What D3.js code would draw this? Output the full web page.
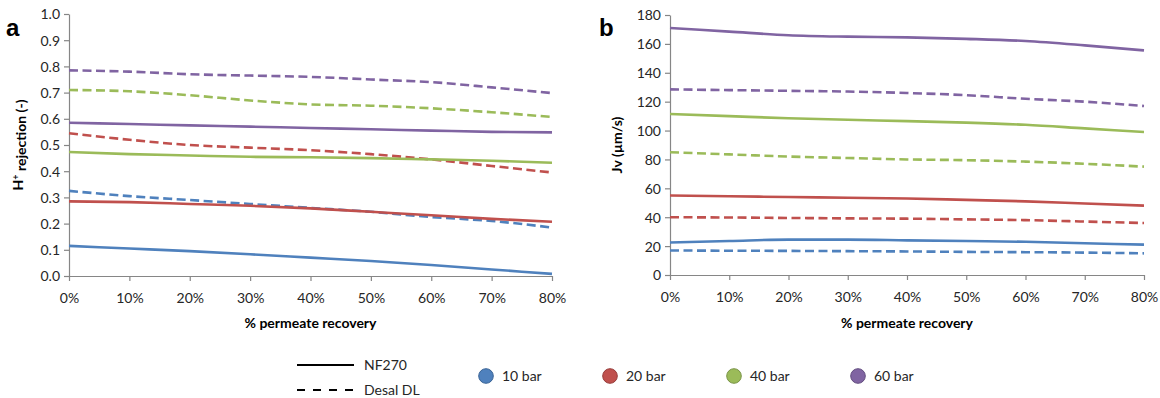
<!DOCTYPE html>
<html>
<head>
<meta charset="utf-8">
<script src="https://cdn.jsdelivr.net/npm/d3@7"></script>
<style>
  html, body { margin: 0; padding: 0; background: #fff; }
  svg { display: block; font-family: Lato, "Open Sans", sans-serif; }
</style>
</head>
<body>
<svg id="chart" width="1160" height="398"></svg>
<script>
// Permeate recovery (%) at which each series was sampled
const recovery = [0, 10, 20, 30, 40, 50, 60, 70, 80];

// Pressures and their colours
const pressures = ["10 bar", "20 bar", "40 bar", "60 bar"];
const colors = ["#4F81BD", "#C0504D", "#9BBB59", "#8064A2"];
const strokeColors = ["#3A6496", "#973C3A", "#7A9447", "#634D80"];

// Membranes: solid = NF270, dashed = Desal DL
const membranes = ["NF270", "Desal DL"];

// Panel a: H+ rejection (-)
const rejNF270_10 = [0.115, 0.105, 0.095, 0.083, 0.070, 0.057, 0.042, 0.025, 0.008];
const rejNF270_20 = [0.285, 0.282, 0.275, 0.268, 0.258, 0.245, 0.232, 0.218, 0.207];
const rejNF270_40 = [0.473, 0.465, 0.460, 0.455, 0.453, 0.450, 0.445, 0.440, 0.432];
const rejNF270_60 = [0.585, 0.580, 0.575, 0.570, 0.565, 0.560, 0.555, 0.550, 0.548];
const rejDesal_10 = [0.325, 0.305, 0.290, 0.275, 0.260, 0.245, 0.225, 0.210, 0.185];
const rejDesal_20 = [0.545, 0.520, 0.500, 0.490, 0.480, 0.465, 0.445, 0.420, 0.395];
const rejDesal_40 = [0.710, 0.705, 0.690, 0.670, 0.655, 0.650, 0.640, 0.625, 0.607];
const rejDesal_60 = [0.785, 0.780, 0.770, 0.765, 0.760, 0.750, 0.740, 0.720, 0.698];

// Panel b: permeate flux Jv (µm/s)
const jvNF270_10 = [22.5, 23.5, 24.5, 24.5, 24.0, 23.5, 23.0, 22.0, 21.0];
const jvNF270_20 = [55.0, 54.5, 54.0, 53.5, 53.0, 52.0, 51.0, 49.5, 48.0];
const jvNF270_40 = [111.5, 110.0, 108.5, 107.5, 106.5, 105.5, 104.0, 101.5, 99.0];
const jvNF270_60 = [171.0, 168.5, 166.0, 165.0, 164.5, 163.5, 162.0, 159.0, 155.5];
const jvDesal_10 = [17.0, 16.8, 16.7, 16.5, 16.3, 16.0, 15.8, 15.5, 15.0];
const jvDesal_20 = [40.0, 39.8, 39.5, 39.2, 39.0, 38.5, 38.0, 37.0, 36.0];
const jvDesal_40 = [85.0, 83.5, 82.0, 81.0, 80.0, 79.5, 78.5, 77.0, 75.0];
const jvDesal_60 = [128.5, 128.0, 127.5, 127.0, 126.0, 124.5, 122.0, 120.0, 117.0];

// Axis ticks
const xTicks = [0, 10, 20, 30, 40, 50, 60, 70, 80];
const rejTicks = [0, 0.1, 0.2, 0.3, 0.4, 0.5, 0.6, 0.7, 0.8, 0.9, 1.0];
const jvTicks = [0, 20, 40, 60, 80, 100, 120, 140, 160, 180];

const svg = d3.select("#chart");
const axisColor = "#868686";
const labelColor = "#262626";

function buildSeries(nf, desal) {
  const out = [];
  // dashed lines first, then solid, drawn in pressure order
  desal.forEach((vals, i) => out.push({ membrane: 1, color: colors[i], values: vals }));
  nf.forEach((vals, i) => out.push({ membrane: 0, color: colors[i], values: vals }));
  return out;
}

function drawPanel(opts) {
  const g = svg.append("g");
  const x = d3.scaleLinear().domain([0, 80]).range([opts.left, opts.right]);
  const y = d3.scaleLinear().domain(opts.yDomain).range([opts.bottom, opts.top]);

  const xAxis = g.append("g")
    .attr("transform", `translate(0,${opts.bottom})`)
    .call(d3.axisBottom(x).tickValues(xTicks).tickFormat(d => d + "%").tickSize(5).tickSizeOuter(0));
  const yAxis = g.append("g")
    .attr("transform", `translate(${opts.left},0)`)
    .call(d3.axisLeft(y).tickValues(opts.yTicks).tickFormat(opts.yFormat).tickSize(5).tickSizeOuter(0));

  [xAxis, yAxis].forEach(a => {
    a.select(".domain").attr("stroke", axisColor).attr("stroke-width", 1.2);
    a.selectAll(".tick line").attr("stroke", axisColor).attr("stroke-width", 1.2);
    a.selectAll(".tick text").attr("fill", labelColor)
      .style("font-size", "14px").style("font-family", "Lato, sans-serif");
  });
  xAxis.selectAll(".tick text").attr("dy", "0").attr("y", 27);
  yAxis.selectAll(".tick text").attr("x", -9).attr("dy", "0.35em");

  const line = d3.line()
    .x((d, i) => x(recovery[i]))
    .y(d => y(d))
    .curve(d3.curveMonotoneX);

  g.append("g").selectAll("path")
    .data(opts.series)
    .join("path")
    .attr("d", d => line(d.values))
    .attr("fill", "none")
    .attr("stroke", d => d.color)
    .attr("stroke-width", 2.6)
    .attr("stroke-dasharray", d => d.membrane === 1 ? "9,4.5" : null);

  // x-axis title
  g.append("text")
    .attr("x", (opts.left + opts.right) / 2)
    .attr("y", 328)
    .attr("text-anchor", "middle")
    .attr("fill", "#000")
    .style("font-size", "14px")
    .style("font-weight", "bold")
    .text("% permeate recovery");

  // y-axis title
  const yt = g.append("text")
    .attr("transform", `translate(${opts.yTitleX},${(opts.top + opts.bottom) / 2}) rotate(-90)`)
    .attr("text-anchor", "middle")
    .attr("fill", "#000")
    .style("font-size", "14px")
    .style("font-weight", "bold");
  opts.yTitle(yt);

  // panel letter
  g.append("text")
    .attr("x", opts.letterX)
    .attr("y", 36)
    .attr("fill", "#000")
    .style("font-family", "'Liberation Sans', Arial, sans-serif")
    .style("font-size", "24px")
    .style("font-weight", "bold")
    .text(opts.letter);
}

drawPanel({
  left: 69, right: 552, top: 14, bottom: 276,
  yDomain: [0, 1], yTicks: rejTicks, yFormat: d3.format(".1f"),
  series: buildSeries(
    [rejNF270_10, rejNF270_20, rejNF270_40, rejNF270_60],
    [rejDesal_10, rejDesal_20, rejDesal_40, rejDesal_60]),
  yTitleX: 23,
  yTitle: t => {
    t.append("tspan").text("H");
    t.append("tspan").attr("dy", "-0.5em").style("font-size", "9px").text("+");
    t.append("tspan").attr("dy", "0.5em").text(" rejection (-)");
  },
  letter: "a", letterX: 6
});

drawPanel({
  left: 670, right: 1144, top: 15, bottom: 275,
  yDomain: [0, 180], yTicks: jvTicks, yFormat: d3.format("d"),
  series: buildSeries(
    [jvNF270_10, jvNF270_20, jvNF270_40, jvNF270_60],
    [jvDesal_10, jvDesal_20, jvDesal_40, jvDesal_60]),
  yTitleX: 622,
  yTitle: t => t.text("Jv (µm/s)"),
  letter: "b", letterX: 599
});

// Legend: membrane line styles
const legend = svg.append("g");
membranes.forEach((m, i) => {
  const yy = 365 + i * 25;
  legend.append("line")
    .attr("x1", 297).attr("x2", 354).attr("y1", yy).attr("y2", yy)
    .attr("stroke", "#000").attr("stroke-width", 2)
    .attr("stroke-dasharray", i === 1 ? "8,8" : null);
  legend.append("text")
    .attr("x", 364).attr("y", yy).attr("dy", "0.35em")
    .attr("fill", labelColor)
    .style("font-size", "14px")
    .text(m);
});

// Legend: pressure colours
const legendX = d3.scalePoint().domain(pressures).range([486, 858]);
pressures.forEach((p, i) => {
  const cx = legendX(p);
  legend.append("circle")
    .attr("cx", cx).attr("cy", 376).attr("r", 7.3)
    .attr("fill", colors[i]).attr("stroke", strokeColors[i]).attr("stroke-width", 1);
  legend.append("text")
    .attr("x", cx + 16).attr("y", 376).attr("dy", "0.35em")
    .attr("fill", labelColor)
    .style("font-size", "14px")
    .text(p);
});
</script>
</body>
</html>
